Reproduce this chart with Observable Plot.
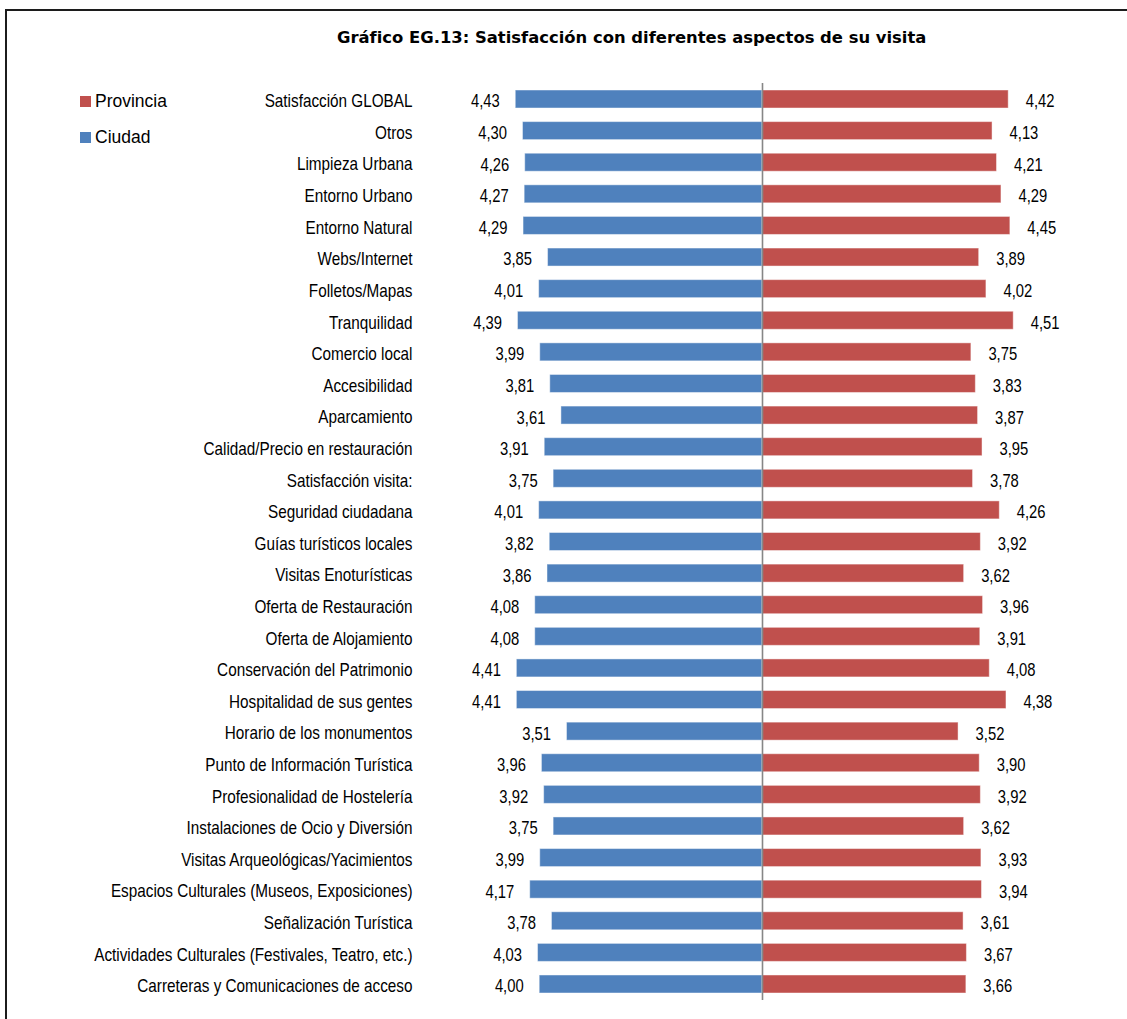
<!DOCTYPE html>
<html lang="es">
<head>
<meta charset="utf-8">
<script src="https://cdn.jsdelivr.net/npm/d3@7"></script>
<script src="https://cdn.jsdelivr.net/npm/@observablehq/plot@0.6"></script>
<style>
  html, body { margin: 0; padding: 0; background: #fff; }
  body { width: 1127px; height: 1019px; overflow: hidden; position: relative; }
  .frame {
    position: absolute; left: 5px; top: 9px; z-index: 2;
    width: 1200px; height: 1100px; pointer-events: none;
    border: 2px solid #1c1c1c; box-sizing: border-box;
  }
  .title {
    position: absolute; left: 337px; top: 27px; z-index: 1;
    font-family: "DejaVu Sans", Verdana, sans-serif;
    font-weight: bold; font-size: 16.4px; color: #000;
    white-space: nowrap; line-height: 22px;
  }
  .legend {
    position: absolute; left: 80px; top: 83px; z-index: 1;
    font-family: "Liberation Sans", Arial, sans-serif; font-size: 17.5px; color: #000;
  }
  .legend div { height: 36px; display: flex; align-items: center; }
  .legend span.sw { display: inline-block; width: 11px; height: 11px; margin-right: 4px; }
  #chart { position: absolute; left: 0; top: 60px; }
</style>
</head>
<body>
<div class="frame"></div>
<div class="title">Gráfico EG.13: Satisfacción con diferentes aspectos de su visita</div>
<div class="legend" id="legend"></div>
<div id="chart"></div>
<script>
const aspectos = [
  "Satisfacción GLOBAL",
  "Otros",
  "Limpieza Urbana",
  "Entorno Urbano",
  "Entorno Natural",
  "Webs/Internet",
  "Folletos/Mapas",
  "Tranquilidad",
  "Comercio local",
  "Accesibilidad",
  "Aparcamiento",
  "Calidad/Precio en restauración",
  "Satisfacción visita:",
  "Seguridad ciudadana",
  "Guías turísticos locales",
  "Visitas Enoturísticas",
  "Oferta de Restauración",
  "Oferta de Alojamiento",
  "Conservación del Patrimonio",
  "Hospitalidad de sus gentes",
  "Horario de los monumentos",
  "Punto de Información Turística",
  "Profesionalidad de Hostelería",
  "Instalaciones de Ocio y Diversión",
  "Visitas Arqueológicas/Yacimientos",
  "Espacios Culturales (Museos, Exposiciones)",
  "Señalización Turística",
  "Actividades Culturales (Festivales, Teatro, etc.)",
  "Carreteras y Comunicaciones de acceso"
];

const ciudad = [4.43, 4.30, 4.26, 4.27, 4.29, 3.85, 4.01, 4.39, 3.99, 3.81, 3.61, 3.91, 3.75, 4.01, 3.82, 3.86, 4.08, 4.08, 4.41, 4.41, 3.51, 3.96, 3.92, 3.75, 3.99, 4.17, 3.78, 4.03, 4.00];
const provincia = [4.42, 4.13, 4.21, 4.29, 4.45, 3.89, 4.02, 4.51, 3.75, 3.83, 3.87, 3.95, 3.78, 4.26, 3.92, 3.62, 3.96, 3.91, 4.08, 4.38, 3.52, 3.90, 3.92, 3.62, 3.93, 3.94, 3.61, 3.67, 3.66];

const series = ["Provincia", "Ciudad"];
const colores = ["#C0504D", "#4F81BD"];

const rows = aspectos.map((a, i) => ({aspecto: a, ciudad: ciudad[i], provincia: provincia[i]}));
const fmt = v => d3.format(".2f")(v).replace(".", ",");

// legend
const legend = document.getElementById("legend");
series.forEach((s, i) => {
  const row = document.createElement("div");
  const sw = document.createElement("span");
  sw.className = "sw";
  sw.style.background = colores[i];
  row.appendChild(sw);
  row.appendChild(document.createTextNode(s));
  legend.appendChild(row);
});

// layout: zero line sits at x = 762, 55.7 px per unit
const W = 1127, H = 959, ML = 430, MR = 0, X0 = 762, K = 55.7;
const xDomain = [-(X0 - ML) / K, (W - MR - X0) / K];
const sans = "'Liberation Sans', Arial, sans-serif";

const chart = Plot.plot({
  width: W,
  height: H,
  marginLeft: ML,
  marginRight: MR,
  marginTop: 23,
  marginBottom: 19,
  style: {fontFamily: sans, fontSize: "18.5px", color: "#000", background: "none", overflow: "visible"},
  x: {domain: xDomain, axis: null},
  y: {domain: aspectos, paddingInner: 0.4305, paddingOuter: 0.2217, align: 0.5, round: false, label: null},
  marks: [
    Plot.axisY({tickSize: 0, tickPadding: 18, fontSize: 18, dy: 2, fill: "#000", className: "cat-labels"}),
    Plot.barX(rows, {x1: 0, x2: d => -d.ciudad, y: "aspecto", fill: colores[1], stroke: "#fff", strokeOpacity: 0.45, strokeWidth: 1}),
    Plot.barX(rows, {x1: 0, x2: d => d.provincia, y: "aspecto", fill: colores[0], stroke: "#fff", strokeOpacity: 0.45, strokeWidth: 1}),
    Plot.ruleX([0], {stroke: "#868686", strokeWidth: 1.6}),
    Plot.text(rows, {x: d => -d.ciudad, y: "aspecto", text: d => fmt(d.ciudad), textAnchor: "end", dx: -16, dy: 2, fill: "#000", className: "val-labels"}),
    Plot.text(rows, {x: d => d.provincia, y: "aspecto", text: d => fmt(d.provincia), textAnchor: "start", dx: 17, dy: 2, fill: "#000", className: "val-labels"})
  ]
});

// narrow the lettering horizontally around each label's anchor point
function narrow(selector, k) {
  for (const t of chart.querySelectorAll(selector)) {
    const tr = t.getAttribute("transform") || "";
    const xa = +(t.getAttribute("x") || 0);
    t.setAttribute("transform", `${tr} translate(${xa},0) scale(${k},1) translate(${-xa},0)`.trim());
  }
}
narrow(".cat-labels text", 0.85);
narrow(".val-labels text", 0.8);
document.getElementById("chart").appendChild(chart);
</script>
</body>
</html>
